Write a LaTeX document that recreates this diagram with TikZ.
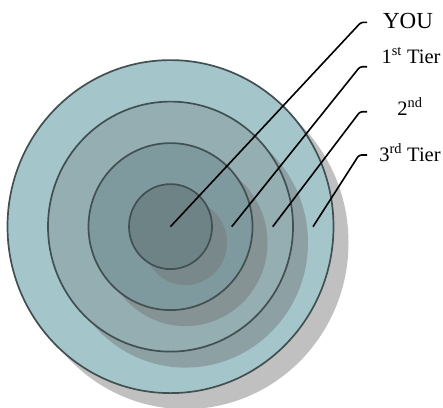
\documentclass[tikz,border=0pt]{standalone}
\usepackage{fontspec}
\setmainfont{Liberation Serif}
\usepackage{tikz}
\usetikzlibrary{shapes.geometric}
\definecolor{ringOuter}{RGB}{164,198,203}
\definecolor{ringSecond}{RGB}{148,174,178}
\definecolor{ringThird}{RGB}{127,154,158}
\definecolor{ringCore}{RGB}{110,131,133}
\definecolor{ringEdge}{RGB}{66,80,82}
\tikzset{
  ring/.style={ellipse, draw=ringEdge, line width=1.7pt, inner sep=0pt},
  shade/.style={ellipse, fill=black!55, fill opacity=0.45, inner sep=0pt},
  leader/.style={draw=black, line width=1.6pt, rounded corners=2.5pt},
  tierlabel/.style={anchor=base, font=\fontsize{20.5}{22}\selectfont, inner sep=0pt},
  youlabel/.style={anchor=base, font=\fontsize{23}{25}\selectfont, inner sep=0pt}
}

\begin{document}
\begin{tikzpicture}[x=1pt, y=-1pt]
\useasboundingbox (0,0) rectangle (443,407);
\coordinate (c) at (170.5,226.6);
\coordinate (cs) at (185.5,242.6);
% rings with their shadows
\node[shade, minimum width=326pt, minimum height=333pt] (sh3) at (cs) {};
\node[ring, fill=ringOuter, minimum width=326pt, minimum height=333pt] (tier3) at (c) {};
\node[shade, minimum width=245pt, minimum height=250pt] (sh2) at (cs) {};
\node[ring, fill=ringSecond, minimum width=245pt, minimum height=250pt] (tier2) at (c) {};
\node[shade, minimum width=164pt, minimum height=167pt] (sh1) at (cs) {};
\node[ring, fill=ringThird, minimum width=164pt, minimum height=167pt] (tier1) at (c) {};
\node[shade, minimum width=83pt, minimum height=85pt] (sh0) at (cs) {};
\node[ring, fill=ringCore, minimum width=83pt, minimum height=85pt] (you) at (c) {};
% labels
\node[youlabel] (lyou) at (408,28.5) {YOU};
\node[tierlabel] (lone) at (411,63) {1\textsuperscript{st} Tier};
\node[tierlabel] (ltwo) at (410,115) {2\textsuperscript{nd}};
\node[tierlabel] (lthree) at (410,161.5) {3\textsuperscript{rd} Tier};
% leader lines
\coordinate (s1) at (231.7,226.7);
\coordinate (s2) at (272.7,226.7);
\coordinate (s3) at (313,226.7);
\coordinate (e0) at (367,22.3);
\coordinate (e1) at (367,66.7);
\coordinate (e2) at (367,111.7);
\coordinate (e3) at (367,155);
\draw[leader] (you.center) -- (361,22.3) -- (e0);
\draw[leader] (s1) -- (360,66.7) -- (e1);
\draw[leader] (s2) -- (360,111.7) -- (e2);
\draw[leader] (s3) -- (359,155) -- (e3);
\end{tikzpicture}
\end{document}
